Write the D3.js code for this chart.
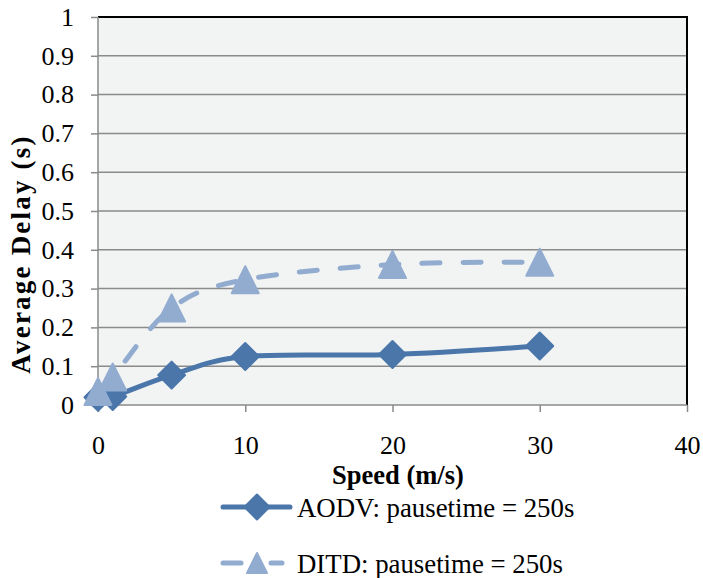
<!DOCTYPE html>
<html><head><meta charset="utf-8">
<script src="https://cdn.jsdelivr.net/npm/d3@7"></script>
<style>body{margin:0;background:#fff;font-family:"Liberation Serif",Tinos,"Times New Roman",serif}</style>
</head><body>
<svg id="c" width="703" height="578"></svg>
<script>
const speeds = [0, 1, 5, 10, 20, 30];
const aodv = [0.02, 0.022, 0.077, 0.125, 0.13, 0.152];
const ditd = [0.035, 0.072, 0.25, 0.323, 0.362, 0.368];
const seriesNames = ["AODV: pausetime = 250s", "DITD: pausetime = 250s"];
const yTicks = [0, 0.1, 0.2, 0.3, 0.4, 0.5, 0.6, 0.7, 0.8, 0.9, 1];
const xTicks = [0, 10, 20, 30, 40];

const svg = d3.select("#c");
const L = 98, R = 687, T = 17, B = 405;
const x = d3.scaleLinear().domain([0, 40]).range([L, R]);
const y = d3.scaleLinear().domain([0, 1]).range([B, T]);
const font = "Liberation Serif";

svg.append("rect").attr("x", L).attr("y", T).attr("width", R - L).attr("height", B - T).attr("fill", "#f2f3f3");

svg.append("g").selectAll("line").data(yTicks.filter(d => d > 0 && d < 1)).join("line")
  .attr("x1", L).attr("x2", R).attr("y1", d => y(d)).attr("y2", d => y(d))
  .attr("stroke", "#8a8a8a").attr("stroke-width", 1.5);

svg.append("path").attr("d", `M${L},${T}H${R}V${B}`).attr("fill", "none").attr("stroke", "#000").attr("stroke-width", 2);

const yAxis = d3.axisLeft(y).tickValues(yTicks).tickSize(7).tickPadding(17).tickFormat(d => d3.format("")(+d.toFixed(1)));
const gy = svg.append("g").attr("transform", `translate(${L},0)`).call(yAxis);
gy.attr("font-family", font).attr("font-size", 26);
gy.select(".domain").attr("stroke", "#8a8a8a").attr("stroke-width", 1.5).attr("d", `M0,${T}V${B}`);
gy.selectAll(".tick line").attr("stroke", "#8a8a8a").attr("stroke-width", 1.5);
gy.selectAll("text").style("font-family", font).style("font-size", "26px").attr("fill", "#000");

const xAxis = d3.axisBottom(x).tickValues(xTicks).tickSize(7).tickPadding(24);
const gx = svg.append("g").attr("transform", `translate(0,${B})`).call(xAxis);
gx.attr("font-family", font).attr("font-size", 26);
gx.select(".domain").attr("stroke", "#8a8a8a").attr("stroke-width", 1.5).attr("d", `M${L},0H${R}`);
gx.selectAll(".tick line").attr("stroke", "#8a8a8a").attr("stroke-width", 1.5);
gx.selectAll("text").style("font-family", font).style("font-size", "26px").attr("fill", "#000");

svg.append("text").attr("x", 398).attr("y", 484).attr("text-anchor", "middle")
  .style("font-family", font).style("font-weight", "bold").style("font-size", "26.5px").text("Speed (m/s)");
svg.append("text").attr("transform", "translate(30,254) rotate(-90)").attr("text-anchor", "middle")
  .style("font-family", font).style("font-weight", "bold").style("font-size", "27px")
  .style("letter-spacing", "2.2px").text("Average Delay (s)");

const c1 = "#4a76aa", c2 = "#92acd0";
const line = d3.line().curve(d3.curveCatmullRom.alpha(0)).x(d => x(d[0])).y(d => y(d[1]));
const d1 = speeds.map((s, i) => [s, aodv[i]]);
const d2 = speeds.map((s, i) => [s, ditd[i]]);

const diamond = s => `M0,${-s}L${s},0L0,${s}L${-s},0Z`;
const tri = s => `M0,${-s}L${s},${s}L${-s},${s}Z`;

svg.append("path").datum(d1).attr("d", line).attr("fill", "none").attr("stroke", c1).attr("stroke-width", 5).attr("stroke-linecap", "round");
svg.append("path").datum(d2).attr("d", line).attr("fill", "none").attr("stroke", c2).attr("stroke-width", 5)
  .attr("stroke-dasharray", "18,23").attr("stroke-linecap", "round");

svg.append("g").selectAll("path").data(d1).join("path")
  .attr("transform", d => `translate(${x(d[0])},${y(d[1])})`).attr("d", diamond(13.5))
  .attr("fill", c1).attr("stroke", c1).attr("stroke-width", 2).attr("stroke-linejoin", "round");
svg.append("g").selectAll("path").data(d2).join("path")
  .attr("transform", d => `translate(${x(d[0])},${y(d[1])})`).attr("d", tri(13.5))
  .attr("fill", c2).attr("stroke", c2).attr("stroke-width", 2).attr("stroke-linejoin", "round");

const leg = [[c1, diamond, 507], [c2, tri, 563]];
leg.forEach((l, i) => {
  const g = svg.append("g");
  if (i === 0) {
    g.append("line").attr("x1", 223).attr("x2", 290).attr("y1", l[2]).attr("y2", l[2]).attr("stroke", l[0]).attr("stroke-width", 5).attr("stroke-linecap", "round");
  } else {
    g.append("line").attr("x1", 223).attr("x2", 241).attr("y1", l[2]).attr("y2", l[2]).attr("stroke", l[0]).attr("stroke-width", 5).attr("stroke-linecap", "round");
    g.append("line").attr("x1", 271).attr("x2", 282).attr("y1", l[2]).attr("y2", l[2]).attr("stroke", l[0]).attr("stroke-width", 5).attr("stroke-linecap", "round");
  }
  g.append("path").attr("transform", `translate(257,${l[2]})`).attr("d", i === 0 ? diamond(12.5) : tri(10))
    .attr("fill", l[0]).attr("stroke", l[0]).attr("stroke-width", 2).attr("stroke-linejoin", "round");
  g.append("text").attr("x", 297).attr("y", l[2] + 10).style("font-family", font).style("font-size", "26.8px").text(seriesNames[i]);
});
</script>
</body></html>
